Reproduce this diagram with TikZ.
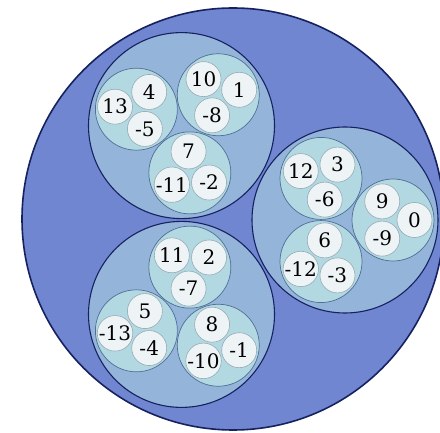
\documentclass[tikz,border=0pt]{standalone}
\usepackage{fontspec}
\setmainfont{DejaVu Serif}
\usetikzlibrary{calc}
\definecolor{bigc}{RGB}{112,134,208}
\definecolor{midc}{RGB}{148,180,218}
\definecolor{smallc}{RGB}{178,216,226}
\definecolor{tinyc}{RGB}{238,244,246}
\definecolor{edge}{RGB}{22,34,96}
\definecolor{edgetwo}{RGB}{80,110,150}
\definecolor{edgethree}{RGB}{150,170,180}
\begin{document}
\begin{tikzpicture}[x=1pt,y=1pt,
  lvlzero/.style={circle, draw=edge, line width=1.6pt, fill=bigc, minimum size=422pt, inner sep=0pt},
  lvlone/.style={circle, draw=edge, line width=1.1pt, fill=midc, minimum size=186pt, inner sep=0pt},
  lvltwo/.style={circle, draw=edgetwo, line width=0.7pt, fill=smallc, minimum size=82pt, inner sep=0pt},
  lvlthree/.style={circle, draw=edgethree, line width=0.6pt, fill=tinyc, minimum size=35pt, inner sep=0pt, text=black}]
\clip (0,0) rectangle (440,432);
\useasboundingbox (0,0) rectangle (440,432);
\fill[white] (0,0) rectangle (440,432);
\node[lvlzero] (c) at (233,213) {};
\coordinate (g) at (236,212);
\foreach \i in {0,1,2} {
  \pgfmathsetmacro\aone{120*\i}
  \pgfmathsetmacro\rone{\aone/3}
  \node[lvlone] (c\i) at ($(g)+(\aone:109)$) {};
  \foreach \j in {0,1,2} {
    \pgfmathsetmacro\atwo{\rone+120*\j}
    \pgfmathsetmacro\rtwo{\atwo/3}
    \node[lvltwo] (c\i\j) at ($(c\i.center)+(\atwo:48)$) {};
    \foreach \k in {0,1,2} {
      \pgfmathsetmacro\athree{\rtwo+120*\k}
      \pgfmathtruncatemacro\v{\i+3*\j+9*\k}
      \pgfmathtruncatemacro\w{\v>13 ? \v-27 : \v}
      \node[lvlthree] (c\i\j\k) at ($(c\i\j.center)+(\athree:21.5)$) {\fontsize{20pt}{20pt}\selectfont\w};
    }
  }
}
\end{tikzpicture}
\end{document}
